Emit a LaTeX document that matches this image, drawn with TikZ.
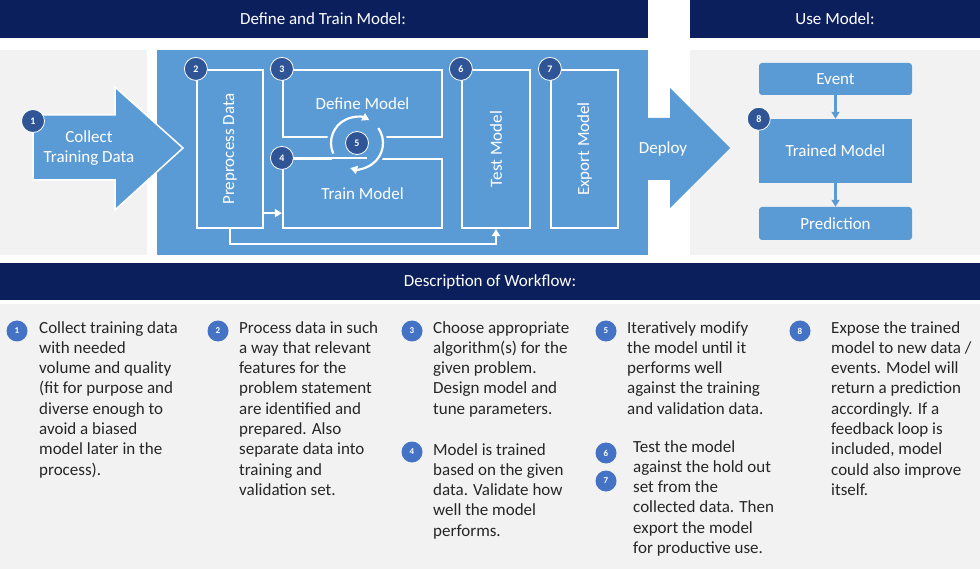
\documentclass[tikz,border=0pt]{standalone}
\usepackage{fontspec}
\setmainfont{Carlito}
\usepackage{graphicx}
\usetikzlibrary{arrows.meta,positioning}
\definecolor{navy}{HTML}{0B1F5C}
\definecolor{boxblue}{HTML}{5B9BD5}
\definecolor{badgeblue}{HTML}{2F5597}
\definecolor{dotblue}{HTML}{4472C4}
\definecolor{panelgray}{HTML}{F2F2F2}

\begin{document}
\begin{tikzpicture}[x=1pt, y=-1pt, >={Triangle[length=7pt,width=8pt]},
  hdr/.style={text=white, font=\fontsize{17}{19}\selectfont},
  lbl/.style={text=white, align=center, font=\fontsize{17}{20}\selectfont},
  stage/.style={draw=white, line width=2.2pt, inner sep=0pt, lbl},
  badge/.style={circle, fill=badgeblue, draw=white, line width=0.8pt, minimum size=23pt,
    inner sep=0pt, text=white, font=\fontsize{10}{10}\selectfont\bfseries},
  numdot/.style={circle, fill=dotblue, minimum size=21pt, inner sep=0pt, text=white,
    font=\fontsize{9}{9}\selectfont\bfseries},
  desc/.style={anchor=north west, align=left, inner sep=0pt, text=black!85,
    font=\fontsize{17}{20.3}\selectfont},
  usebox/.style={fill=boxblue, minimum width=153pt, inner sep=0pt, lbl},
  flow/.style={white, line width=2.2pt, ->},
  blueflow/.style={boxblue, line width=3pt, ->}]
  \useasboundingbox (0,0) rectangle (980,569);

  \fill[navy] (0,0) rectangle (648,38);
  \fill[navy] (690,0) rectangle (980,38);
  \node[hdr] (hdtrain) at (323,19) {Define and Train Model:};
  \node[hdr] (hduse) at (835,19) {Use Model:};

  \fill[panelgray] (0,50) rectangle (147,255);
  \fill[boxblue] (157,50) rectangle (648,255);
  \fill[panelgray] (690,50) rectangle (980,255);

  \filldraw[fill=boxblue, draw=white, line width=1.5pt] (33,115) -- (115,115) -- (115,87)
    -- (183,148) -- (115,210) -- (115,180) -- (33,180) -- cycle;
  \node[lbl] (collect) at (89,148) {Collect\\Training Data};
  \node[badge] (b1) at (33,121) {1};

  \fill[boxblue] (640,118) -- (670,118) -- (670,88) -- (730,148) -- (670,208)
    -- (670,180) -- (640,180) -- cycle;
  \node[lbl] (deploy) at (663,149) {Deploy};

  \node[stage, minimum width=66pt, minimum height=158pt] (prep) at (230,149)
    {\rotatebox{90}{Preprocess Data}};
  \node[stage, minimum width=159pt, minimum height=67pt] (define) at (362.5,103.5)
    {Define Model};
  \node[stage, minimum width=159pt, minimum height=69pt] (train) at (362.5,193.5)
    {Train Model};
  \node[stage, minimum width=68pt, minimum height=158pt] (test) at (496,149)
    {\rotatebox{90}{Test Model}};
  \node[stage, minimum width=67pt, minimum height=158pt] (export) at (584.5,149)
    {\rotatebox{90}{Export Model}};

  \coordinate (loop) at (357,143);
  \fill[boxblue] (loop) circle (30);
  \draw[white, line width=2.2pt] (train.north west) -- ++(85,0);
  \draw[white, line width=2.2pt, ->] ([shift={(-204:26)}]loop) arc (-204:-62:26);
  \draw[white, line width=2.2pt, ->] ([shift={(-35:26)}]loop) arc (-35:105:26);

  \draw[flow] ([yshift=16pt]prep.south east) -- ([yshift=16pt]train.south west);
  \draw[flow] (prep.south) -- ++(0,15) -| (test.south);

  \node[badge] (b2) at (prep.north west) {2};
  \node[badge] (b3) at (define.north west) {3};
  \node[badge] (b4) at (train.north west) {4};
  \node[badge] (b5) at (loop) {5};
  \node[badge] (b6) at (test.north west) {6};
  \node[badge] (b7) at (export.north west) {7};

  \node[usebox, rounded corners=3pt, minimum height=32pt] (event) at (835.5,79) {Event};
  \node[usebox, minimum height=64pt] (trained) at (835.5,151) {Trained Model};
  \node[usebox, rounded corners=3pt, minimum height=33pt] (predict) at (835.5,223.5) {Prediction};
  \draw[blueflow] (event) -- (trained);
  \draw[blueflow] (trained) -- (predict);
  \node[badge] (b8) at (trained.north west) {8};

  \fill[navy] (0,263) rectangle (980,300);
  \node[hdr] (hddesc) at (490,282) {Description of Workflow:};
  \fill[panelgray] (0,304) rectangle (980,569);

  \node[numdot] (n1) at (17,331) {1};
  \node[desc] (d1) at (39,321) {Collect training data\\with needed\\volume and quality\\(fit for purpose and\\diverse enough to\\avoid a biased\\model later in the\\process).};
  \node[numdot] (n2) at (218,331) {2};
  \node[desc] (d2) at (239,321) {Process data in such\\a way that relevant\\features for the\\problem statement\\are identified and\\prepared. Also\\separate data into\\training and\\validation set.};
  \node[numdot] (n3) at (412,331) {3};
  \node[desc] (d3) at (433,321) {Choose appropriate\\algorithm(s) for the\\given problem.\\Design model and\\tune parameters.};
  \node[numdot] (n4) at (412,452) {4};
  \node[desc] (d4) at (433,443) {Model is trained\\based on the given\\data. Validate how\\well the model\\performs.};
  \node[numdot] (n5) at (606,331) {5};
  \node[desc] (d5) at (627,321) {Iteratively modify\\the model until it\\performs well\\against the training\\and validation data.};
  \node[numdot] (n6) at (606,453) {6};
  \node[numdot] (n7) at (606,481) {7};
  \node[desc] (d6) at (633,440) {Test the model\\against the hold out\\set from the\\collected data. Then\\export the model\\for productive use.};
  \node[numdot] (n8) at (800,331) {8};
  \node[desc] (d8) at (831,321) {Expose the trained\\model to new data /\\events. Model will\\return a prediction\\accordingly. If a\\feedback loop is\\included, model\\could also improve\\itself.};
\end{tikzpicture}
\end{document}
